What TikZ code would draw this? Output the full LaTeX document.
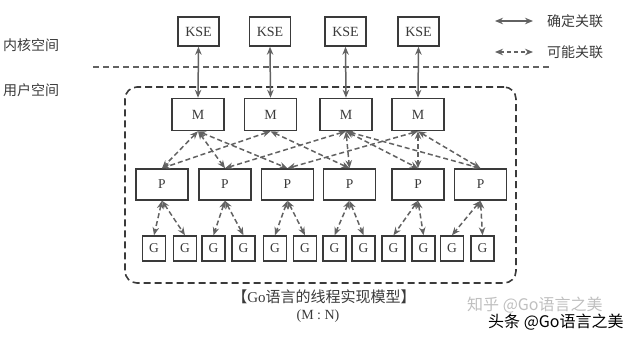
\documentclass[tikz,border=0pt]{standalone}
\usepackage{fontspec}
\setmainfont{Liberation Serif}
\newfontfamily\cjk{Noto Sans CJK SC}
\usetikzlibrary{arrows.meta}
\definecolor{ink}{HTML}{3A3A3A}
\definecolor{edgec}{HTML}{626262}
\begin{document}
\begin{tikzpicture}[x=1pt,y=-1pt,
 box/.style={draw=ink, line width=1.5pt, fill=white, inner sep=0pt, text=ink},
 kse/.style={box, minimum width=41pt, minimum height=29pt, font=\fontsize{14}{14}\selectfont},
 mbox/.style={box, minimum width=52pt, minimum height=32pt, font=\fontsize{14}{14}\selectfont},
 pbox/.style={box, minimum width=52pt, minimum height=31pt, font=\fontsize{13.5}{13.5}\selectfont},
 gbox/.style={box, minimum width=23pt, minimum height=25pt, font=\fontsize{13.5}{13.5}\selectfont},
 sure/.style={draw=edgec, line width=1.5pt, {Stealth[length=8pt,width=6.5pt]}-{Stealth[length=8pt,width=6.5pt]}},
 maybe/.style={sure, dash pattern=on 5pt off 3pt},
 lbl/.style={text=ink, font=\cjk\fontsize{14}{14}\selectfont, inner sep=0pt},
 frame/.style={draw=ink, line width=1.6pt, dash pattern=on 7pt off 4pt, rounded corners=12pt, inner sep=0pt}
]
\useasboundingbox (0,0) rectangle (640,339);
% user-space frame
\node[frame, minimum width=391pt, minimum height=196pt] (frame) at (320.5,185) {};
% kernel/user divider
\coordinate (divL) at (93,67);
\coordinate (divR) at (550,67);
\draw[draw=edgec, line width=1.2pt, dash pattern=on 6pt off 4pt] (divL) -- (divR);
% side labels
\node[lbl, anchor=west] (kern) at (3,45) {内核空间};
\node[lbl, anchor=west] (user) at (3,90) {用户空间};
% legend
\coordinate (l1a) at (495,21); \coordinate (l1b) at (533,21);
\coordinate (l2a) at (495,52); \coordinate (l2b) at (533,52);
\draw[sure] (l1a) -- (l1b);
\draw[maybe, dash pattern=on 4pt off 3pt] (l2a) -- (l2b);
\node[lbl, anchor=west] (leg1) at (547,21) {确定关联};
\node[lbl, anchor=west] (leg2) at (547,52) {可能关联};
% KSE
\foreach \i/\x in {1/198.5,2/270,3/345.5,4/418.5}
  \node[kse] (K\i) at (\x,31.5) {KSE};
% M
\foreach \i/\x in {1/198,2/270.5,3/346,4/418}
  \node[mbox] (M\i) at (\x,114.5) {M};
% P
\foreach \i/\x in {1/162,2/225,3/287.5,4/349.5,5/418,6/480.5}
  \node[pbox] (P\i) at (\x,184.5) {P};
% G
\foreach \i/\x in {1/154,2/185,3/213.5,4/243.5,5/275,6/305,7/334.5,8/363.5,9/393.5,10/423.5,11/452,12/482.5}
  \node[gbox] (G\i) at (\x,248.5) {G};
% KSE - M
\foreach \i in {1,2,3,4}
  \draw[sure] (K\i.south) -- (M\i.north);
% M - P
\foreach \m/\p in {1/1,1/2,1/3,2/1,2/4,3/2,3/4,3/5,3/6,4/3,4/5,4/6}
  \draw[maybe] (M\m.south) -- (P\p.north);
% P - G
\foreach \p/\ga/\gb in {1/1/2,2/3/4,3/5/6,4/7/8,5/9/10,6/11/12}{
  \draw[maybe] (P\p.south) -- (G\ga.north);
  \draw[maybe] (P\p.south) -- (G\gb.north);
}
% caption
\node[text=ink, font=\fontsize{15}{15}\selectfont, inner sep=0pt] (cap) at (324,297) {{\cjk 【}Go{\cjk 语言的线程实现模型】}};
\node[text=ink, font=\fontsize{14}{14}\selectfont, inner sep=0pt] (ratio) at (318,316) {(M : N)};
% watermarks
\node[text=black!25, font=\cjk\fontsize{16}{16}\selectfont, inner sep=0pt, anchor=west] (wm1) at (467,305) {知乎 @Go语言之美};
\node[text=black, font=\cjk\fontsize{16}{16}\selectfont, inner sep=0pt, anchor=west] (wm2) at (488,322) {头条 @Go语言之美};
\end{tikzpicture}
\end{document}
